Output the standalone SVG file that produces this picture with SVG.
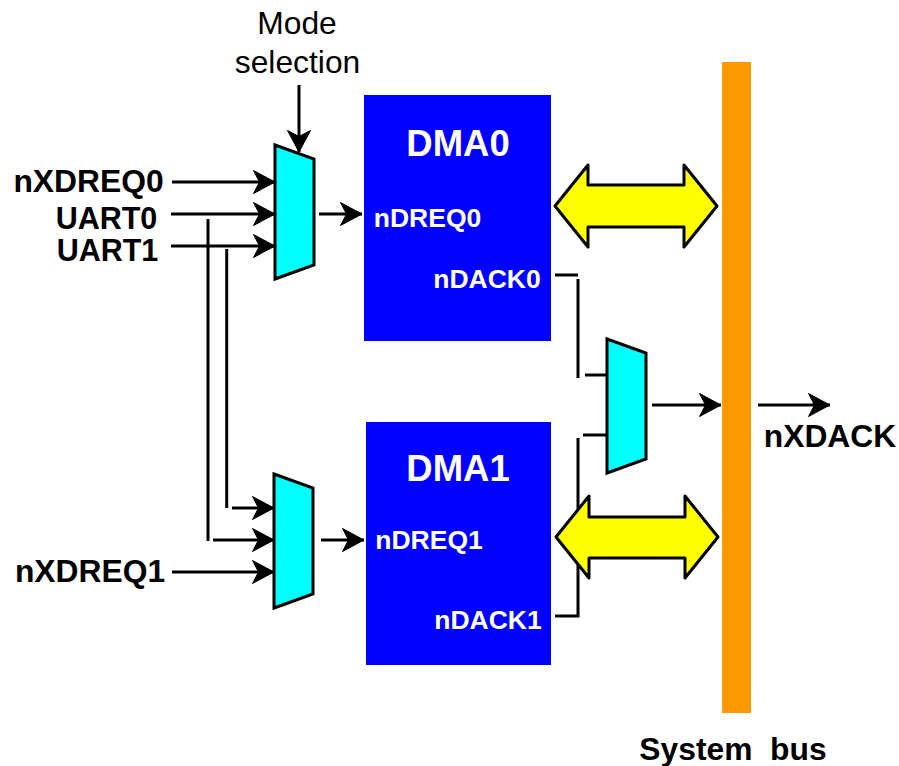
<svg xmlns="http://www.w3.org/2000/svg" width="899" height="766" viewBox="0 0 899 766">
<style>
text{font-family:"Liberation Sans",Arial,sans-serif;text-anchor:middle}
.b{font-weight:bold;font-size:31.8px;fill:#000}
.u{font-weight:bold;font-size:30.5px;fill:#000}
.n{font-size:31.8px;fill:#000}
.w{font-weight:bold;font-size:26.5px;fill:#fff}
.t{font-weight:bold;font-size:36.5px;fill:#fff}
.mux{fill:#00ffff;stroke:#000;stroke-width:3}
.dma{fill:#0000ff}
.dbl{fill:#ffff00;stroke:#000;stroke-width:3;stroke-linejoin:round}
.c{fill:none;stroke:#000;stroke-width:3}
.a{fill:none;stroke:#000;stroke-width:3;marker-end:url(#ah)}
</style>
<defs>
<marker id="ah" markerUnits="userSpaceOnUse" markerWidth="26" markerHeight="28" refX="23" refY="13" orient="auto">
<path d="M1.500,1.500L23,13L1.500,24.500L7.500,13Z" fill="#000" stroke="#000" stroke-width="1" stroke-linejoin="round"/>
</marker>
</defs>
<g id="system-bus"><rect x="722" y="62" width="29" height="651" fill="#ff9900"/><text class="b" x="733" y="760" xml:space="preserve">System  bus</text></g>
<g id="dma0"><rect class="dma" x="364" y="95" width="187" height="246"/><text class="t" x="458" y="156">DMA0</text><text class="w" x="427.500" y="227">nDREQ0</text><text class="w" x="487" y="288">nDACK0</text></g>
<g id="dma1"><rect class="dma" x="366" y="422" width="185" height="243"/><text class="t" x="458" y="481">DMA1</text><text class="w" x="429" y="549">nDREQ1</text><text class="w" x="488" y="629">nDACK1</text></g>
<g id="mux-top"><path class="mux" d="M275,145L314,159V265L275,279Z"/></g>
<g id="mux-bottom"><path class="mux" d="M274,474L313,488V594L274,608Z"/></g>
<g id="mux-right"><path class="mux" d="M607,339L646,353V459L607,473Z"/></g>
<g id="label-mode"><text class="n" x="297" y="34">Mode</text><text class="n" x="297.500" y="73">selection</text></g>
<g id="label-nxdreq0"><text class="b" x="88.500" y="192">nXDREQ0</text></g>
<g id="label-uart0"><text class="u" x="106.500" y="228.500">UART0</text></g>
<g id="label-uart1"><text class="u" x="107.500" y="260.500">UART1</text></g>
<g id="label-nxdreq1"><text class="b" x="90" y="582">nXDREQ1</text></g>
<g id="label-nxdack"><text class="b" x="830" y="447">nXDACK</text></g>
<g id="connectors">
<path class="a" d="M299,85V152"/>
<path class="a" d="M172,182H275"/>
<path class="a" d="M171,214H275"/>
<path class="a" d="M171,246H275"/>
<path class="a" d="M319,214H362"/>
<path class="c" d="M208,219V541"/>
<path class="c" d="M226.700,249V508"/>
<path class="a" d="M232,508H274"/>
<path class="a" d="M213,540H274"/>
<path class="a" d="M172,572H274"/>
<path class="a" d="M321,540H364"/>
<path class="c" d="M555,275H578"/>
<path class="c" d="M578,279V378"/>
<path class="c" d="M585,375H607"/>
<path class="c" d="M583,435H607"/>
<path class="c" d="M578,438V616H555"/>
<path class="a" d="M652,405H721"/>
<path class="a" d="M758,405H830"/>
</g>
<g id="bus-arrow-0"><path class="dbl" d="M555,206L588,165V185H684V165L717,206L684,247V227H588V247Z"/></g>
<g id="bus-arrow-1"><path class="dbl" d="M556,537L589,496V517H685V496L718,537L685,578V558H589V578Z"/></g>
</svg>
